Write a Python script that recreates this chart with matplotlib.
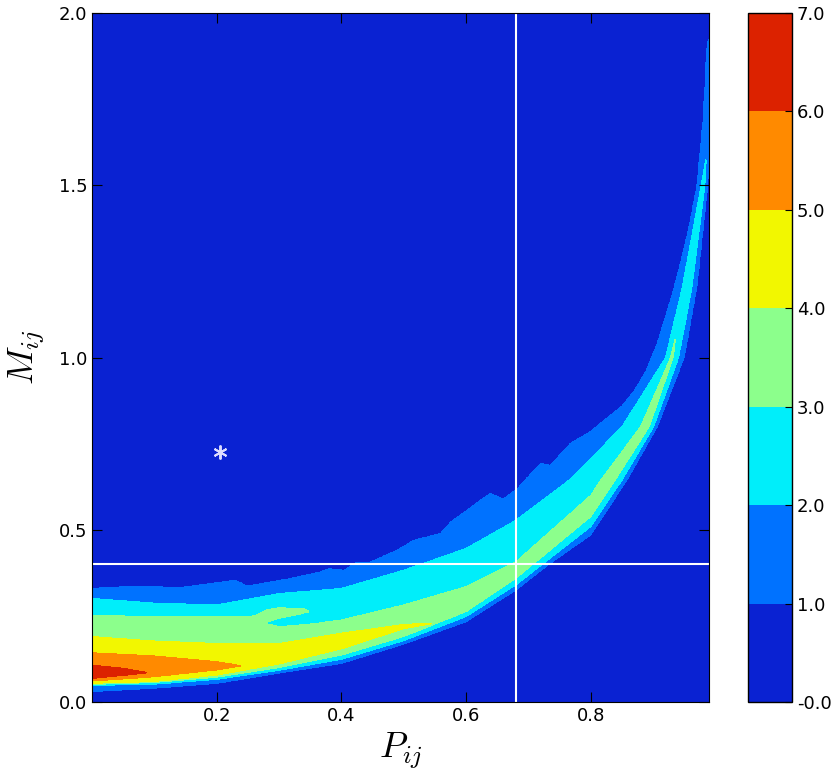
import numpy as np
import matplotlib
matplotlib.use('Agg')
import matplotlib.pyplot as plt
from matplotlib.colors import ListedColormap

plt.rcParams['mathtext.fontset'] = 'cm'

# colour levels of the filled contour
levels = [-0.0, 1.0, 2.0, 3.0, 4.0, 5.0, 6.0, 7.0]
cbar_labels = ['-0.0', '1.0', '2.0', '3.0', '4.0', '5.0', '6.0', '7.0']
x_ticks = [0.2, 0.4, 0.6, 0.8]
y_ticks = [0.0, 0.5, 1.0, 1.5, 2.0]

# contour boundaries as (P, M) pairs
# lbK / ubK = lower / upper edge of the region where density >= K
lb1 = [(0.0, 0.030), (0.1, 0.040), (0.2, 0.054), (0.3, 0.084), (0.4, 0.112),
       (0.5, 0.168), (0.6, 0.233), (0.68, 0.325), (0.733, 0.40), (0.8, 0.485),
       (0.858, 0.644), (0.907, 0.80), (0.950, 1.00), (0.970, 1.20),
       (0.988, 1.50), (0.990, 1.55)]
ub1 = [(0.0, 0.330), (0.067, 0.337), (0.142, 0.333), (0.23, 0.354), (0.249, 0.337),
       (0.318, 0.359), (0.366, 0.378), (0.38, 0.388), (0.404, 0.383), (0.425, 0.407),
       (0.447, 0.407), (0.489, 0.441), (0.516, 0.470), (0.559, 0.490), (0.575, 0.523),
       (0.623, 0.586), (0.639, 0.606), (0.660, 0.590), (0.682, 0.620), (0.719, 0.693),
       (0.735, 0.688), (0.767, 0.751), (0.799, 0.785), (0.826, 0.825), (0.850, 0.860),
       (0.870, 0.905), (0.888, 0.960), (0.906, 1.04), (0.933, 1.20), (0.955, 1.36),
       (0.970, 1.50), (0.980, 1.70), (0.986, 1.91), (0.990, 1.93)]
lb2 = [(0.0, 0.049), (0.1, 0.052), (0.2, 0.066), (0.3, 0.092), (0.4, 0.124),
       (0.5, 0.178), (0.6, 0.248), (0.68, 0.340), (0.8, 0.509), (0.850, 0.644),
       (0.901, 0.80), (0.941, 1.00), (0.962, 1.20), (0.983, 1.50), (0.985, 1.58)]
ub2 = [(0.0, 0.301), (0.1, 0.287), (0.2, 0.282), (0.3, 0.315), (0.4, 0.330),
       (0.5, 0.383), (0.6, 0.446), (0.68, 0.528), (0.765, 0.644), (0.8, 0.707),
       (0.850, 0.80), (0.920, 1.00), (0.946, 1.20), (0.977, 1.50), (0.985, 1.58)]
lb3 = [(0.0, 0.051), (0.1, 0.057), (0.2, 0.072), (0.3, 0.100), (0.4, 0.136),
       (0.5, 0.190), (0.6, 0.262), (0.68, 0.359), (0.8, 0.538), (0.839, 0.644),
       (0.894, 0.80), (0.932, 1.00), (0.936, 1.06)]
ub3 = [(0.277, 0.229), (0.30, 0.219), (0.35, 0.226), (0.4, 0.238), (0.5, 0.282),
       (0.6, 0.335), (0.68, 0.407), (0.8, 0.600), (0.816, 0.644), (0.880, 0.80),
       (0.928, 1.00), (0.936, 1.06)]
# upper green strip above the cyan tongue (ends at P = 0.349)
strip_top = [(0.0, 0.252), (0.1, 0.248), (0.2, 0.248), (0.26, 0.250), (0.28, 0.268),
             (0.30, 0.274), (0.34, 0.270), (0.349, 0.263)]
tongue_hi = [(0.277, 0.229), (0.30, 0.243), (0.33, 0.254), (0.349, 0.263)]
lb4 = [(0.0, 0.054), (0.1, 0.059), (0.2, 0.078), (0.3, 0.110), (0.4, 0.154),
       (0.5, 0.213), (0.546, 0.228)]
ub4 = [(0.0, 0.190), (0.1, 0.177), (0.2, 0.170), (0.3, 0.170), (0.4, 0.200),
       (0.5, 0.225), (0.546, 0.228)]
lb5 = [(0.0, 0.061), (0.1, 0.073), (0.2, 0.093), (0.24, 0.105)]
ub5 = [(0.0, 0.143), (0.1, 0.134), (0.2, 0.117), (0.24, 0.105)]
lb6 = [(0.0, 0.068), (0.05, 0.077), (0.088, 0.085)]
ub6 = [(0.0, 0.107), (0.05, 0.098), (0.088, 0.085)]

p_cut = 0.68
m_cut = 0.40
star_p, star_m = 0.206, 0.727

band_colors = ['#0a22d2', '#0072ff', '#00eefa', '#8cff8c', '#f2f700', '#ff8a00', '#dc2200']

lows = [lb1, lb2, lb3, lb4, lb5, lb6]
highs = [ub1, ub2, ub3, ub4, ub5, ub6]


def curve(pts, p):
    a = np.array(pts)
    return float(np.interp(p, a[:, 0], a[:, 1]))


def column(p, m):
    act = [k for k in range(6) if p <= lows[k][-1][0]]
    xs = [curve(lb1, p) - 0.006]
    vs = [0.3]
    for k in act:
        xs.append(curve(lows[k], p)); vs.append(k + 1)
    top = act[-1]
    top_hi = curve(strip_top, p) if (top == 2 and p < 0.277) else curve(highs[top], p)
    xs.append(0.5 * (xs[-1] + top_hi)); vs.append(top + 1.5)
    for k in reversed(act):
        if k == 2 and p < 0.277:
            xs.append(curve(strip_top, p)); vs.append(3)
        elif k == 2 and p <= 0.349:
            g, t, s = curve(ub3, p), curve(tongue_hi, p), curve(strip_top, p)
            xs += [g, 0.5 * (g + t), t, 0.5 * (t + s), s]
            vs += [3, 2.7, 3, 3.3, 3]
        else:
            xs.append(curve(highs[k], p)); vs.append(k + 1)
    xs.append(curve(ub1, p) + 0.006); vs.append(0.3)
    xs = np.maximum.accumulate(np.array(xs)) + np.arange(len(xs)) * 1e-7
    return np.interp(m, xs, vs, left=0.3, right=0.3)


P = np.linspace(0.0, 0.99, 900)
M = np.linspace(0.0, 2.0, 1100)
Z = np.column_stack([column(p, M) for p in P])

fig = plt.figure(figsize=(8.34, 7.81), dpi=100)
ax = fig.add_axes([0.1103, 0.1011, 0.7402, 0.8823])
cax = fig.add_axes([0.8969, 0.1011, 0.0528, 0.8823])

cs = ax.contourf(P, M, Z, levels=levels, cmap=ListedColormap(band_colors))
ax.axvline(p_cut, color='white', lw=1.5)
ax.axhline(m_cut, color='white', lw=1.5)
ax.plot([star_p], [star_m], marker=(6, 2, 0), ms=10, mew=1.4,
        color='#dcdcff', ls='none')

ax.set_xlim(0.0, 0.99)
ax.set_ylim(0.0, 2.0)
ax.set_xticks(x_ticks)
ax.set_yticks(y_ticks)
ax.tick_params(direction='in', top=True, right=True, length=7, labelsize=13)
ax.set_xlabel(r'$P_{ij}$', fontsize=26, labelpad=4)
ax.set_ylabel(r'$M_{ij}$', fontsize=26, labelpad=8)

cb = fig.colorbar(cs, cax=cax)
cb.set_ticks(levels)
cb.set_ticklabels(cbar_labels)
cb.ax.tick_params(direction='in', length=5, labelsize=13)
cb.outline.set_linewidth(1.0)

fig.savefig('out.png', dpi=100)
